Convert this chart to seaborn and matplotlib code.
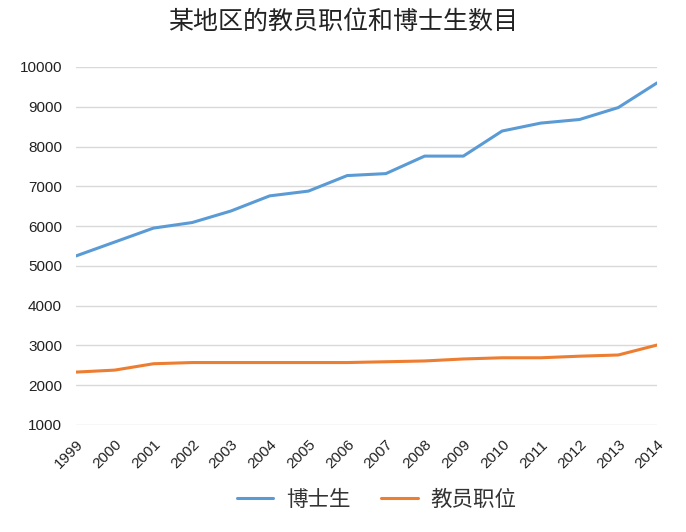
import numpy as np
import pandas as pd
import matplotlib
matplotlib.use("Agg")
import matplotlib.pyplot as plt
import seaborn as sns
from matplotlib.lines import Line2D

years = list(range(1999, 2015))
phd = [5250, 5600, 5950, 6090, 6380, 6760, 6880, 7270, 7320, 7760, 7760, 8390, 8590, 8680, 8980, 9600]
faculty = [2330, 2380, 2540, 2570, 2570, 2570, 2570, 2570, 2590, 2610, 2660, 2690, 2690, 2730, 2760, 3010]
series_names = ["博士生", "教员职位"]
title = "某地区的教员职位和博士生数目"

sns.set_theme(style="white")
plt.rcParams['font.family'] = ['Noto Sans CJK SC', 'DejaVu Sans']

df = pd.DataFrame({
    "year": years * 2,
    "value": phd + faculty,
    "series": [series_names[0]] * len(years) + [series_names[1]] * len(years),
})

fig = plt.figure(figsize=(6.86, 5.32), dpi=100)
ax = fig.add_axes([76/686, 1-425/532, (657-76)/686, (425-67)/532])
sns.lineplot(data=df, x="year", y="value", hue="series",
             palette=["#5B9BD5", "#ED7D31"], linewidth=2.2, ax=ax, legend=False)

ax.set_xlim(1999, 2014)
ax.set_ylim(1000, 10000)
ax.set_yticks(range(1000, 10001, 1000))
ax.set_xticks(years)
ax.set_xticklabels([str(y) for y in years], rotation=45, ha='right',
                   rotation_mode='anchor', fontsize=11, color='#222222',
                   family=['Liberation Sans', 'DejaVu Sans'])
ax.set_yticklabels([str(v) for v in range(1000, 10001, 1000)], fontsize=11,
                   color='#222222', family=['Liberation Sans', 'DejaVu Sans'])
ax.tick_params(axis='x', length=0, pad=9)
ax.tick_params(axis='y', length=0, pad=10)
ax.grid(axis='y', color='#D9D9D9', linewidth=1)
for s in ax.spines.values():
    s.set_visible(False)
ax.set_xlabel("")
ax.set_ylabel("")

handles = [Line2D([0], [0], color="#5B9BD5", lw=2.2), Line2D([0], [0], color="#ED7D31", lw=2.2)]
fig.legend(handles, series_names, loc='center', bbox_to_anchor=(0.549, 1-500/532),
           ncol=2, frameon=False, fontsize=15.5, handlelength=1.7, handletextpad=0.6,
           columnspacing=1.4, labelcolor='#333333')

fig.text(0.5, 1-22/532, title, ha='center', va='center', fontsize=18, color='#222222')

fig.savefig("out.png", dpi=100, facecolor='white')
